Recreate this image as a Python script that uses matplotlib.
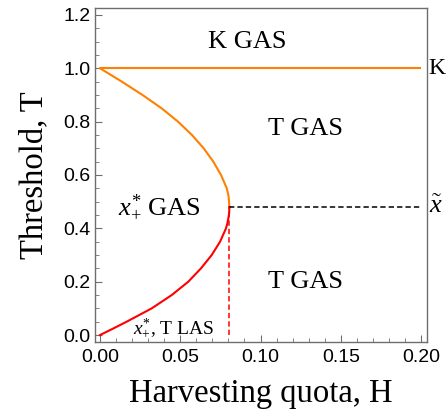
import numpy as np
import matplotlib
matplotlib.use('Agg')
import matplotlib.pyplot as plt
from matplotlib.ticker import MultipleLocator, FormatStrFormatter

# serif text like the original, sans tick labels
plt.rcParams['font.family'] = ['Liberation Serif', 'DejaVu Serif']
plt.rcParams['mathtext.fontset'] = 'custom'
plt.rcParams['mathtext.rm'] = 'Liberation Serif'
plt.rcParams['mathtext.it'] = 'Liberation Serif:italic'

# upper branch (orange)
T_upper = [1.00, 0.975, 0.95, 0.90, 0.85, 0.80, 0.75, 0.70, 0.65, 0.60, 0.55, 0.52, 0.50, 0.48]
H_upper = [0.0, 0.0068, 0.0136, 0.0265, 0.0384, 0.0486, 0.0573, 0.0646, 0.0706, 0.0754, 0.0790, 0.0801, 0.0804, 0.0806]
# lower branch (red)
T_lower = [0.48, 0.46, 0.45, 0.42, 0.40, 0.35, 0.30, 0.25, 0.20, 0.15, 0.10, 0.05, 0.025, 0.0]
H_lower = [0.0806, 0.0805, 0.0803, 0.0794, 0.0785, 0.0748, 0.0696, 0.0629, 0.0550, 0.0447, 0.0322, 0.0166, 0.0084, 0.0]

K = 1.0
x_tilde = 0.48
H_fold = 0.0806
H_max = 0.2

orange = '#FF8000'
red = '#FF0000'
grey = '#6e6e6e'

fig = plt.figure(figsize=(4.47, 4.16), dpi=100)
ax = fig.add_axes([95/447, 1-342/416, 332/447, 334/416])

ax.plot([0, H_max], [K, K], color=orange, lw=1.5, solid_capstyle='butt')
ax.plot(H_upper, T_upper, color=orange, lw=1.5)
ax.plot(H_lower, T_lower, color=red, lw=1.5)
ax.plot([H_fold, H_max], [x_tilde, x_tilde], color='black', lw=1.1, dashes=(3.5, 2))
ax.plot([H_fold, H_fold], [0, x_tilde], color=red, lw=1.1, dashes=(3.5, 2))

ax.set_xlim(-0.0031, 0.2037)
ax.set_ylim(-0.026, 1.226)

ax.xaxis.set_major_locator(MultipleLocator(0.05))
ax.xaxis.set_minor_locator(MultipleLocator(0.01))
ax.yaxis.set_major_locator(MultipleLocator(0.2))
ax.yaxis.set_minor_locator(MultipleLocator(0.05))
ax.xaxis.set_major_formatter(FormatStrFormatter('%.2f'))
ax.yaxis.set_major_formatter(FormatStrFormatter('%.1f'))

ax.tick_params(which='both', direction='in', color=grey, top=False, right=False)
ax.tick_params(which='major', length=5, width=0.8)
ax.tick_params(which='minor', length=2.8, width=0.6)
ax.tick_params(axis='y', pad=3.5)
ax.tick_params(axis='x', pad=5)
for lab in ax.get_xticklabels() + ax.get_yticklabels():
    lab.set_fontfamily('Liberation Sans')
    lab.set_fontsize(14)
for s in ax.spines.values():
    s.set_color(grey)
    s.set_linewidth(1.0)

ax.set_xlabel('Harvesting quota, H', fontsize=23.5, labelpad=9)
ax.set_ylabel('Threshold, T', fontsize=23.5, labelpad=10)

# region labels
ax.text(0.092, 1.10, 'K GAS', fontsize=19, ha='center', va='center')
ax.text(0.128, 0.774, 'T GAS', fontsize=19, ha='center', va='center')
ax.text(0.037, 0.48, r'$x_{+}^{*}$ GAS', fontsize=19, ha='center', va='center')
ax.text(0.128, 0.20, 'T GAS', fontsize=19, ha='center', va='center')
ax.text(0.046, 0.026, r'$x_{+}^{*}$, T LAS', fontsize=14, ha='center', va='center')

# labels outside the right spine
ax.text(1.005, K, 'K', transform=ax.get_yaxis_transform(), fontsize=17, ha='left', va='center')
ax.text(1.005, x_tilde, r'$\tilde{x}$', transform=ax.get_yaxis_transform(), fontsize=19, ha='left', va='center')

fig.savefig('out.png', dpi=100)
